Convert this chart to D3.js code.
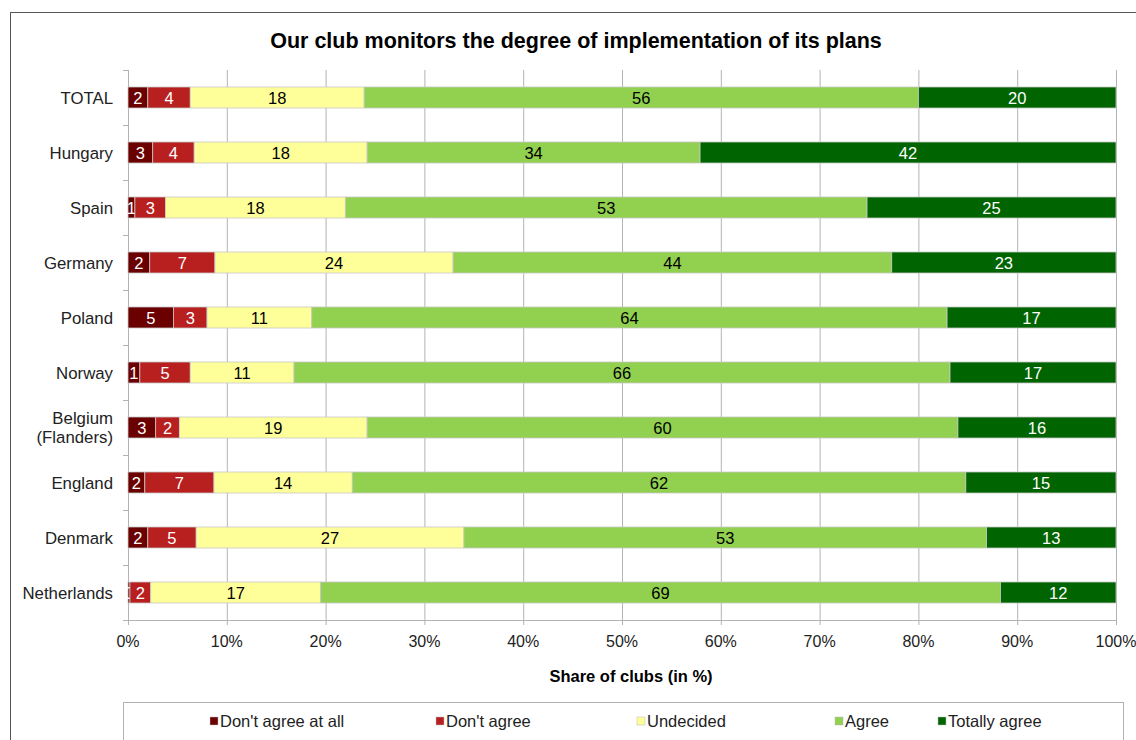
<!DOCTYPE html>
<html>
<head>
<meta charset="utf-8">
<script src="https://cdn.jsdelivr.net/npm/d3@7"></script>
<style>
  body { margin: 0; background: #fff; }
  text { font-family: Arial, "Liberation Sans", sans-serif; }
</style>
</head>
<body>
<script>
const categories = ['TOTAL', 'Hungary', 'Spain', 'Germany', 'Poland', 'Norway',
  'Belgium (Flanders)', 'England', 'Denmark', 'Netherlands']
const seriesNames = ["Don't agree at all", "Don't agree", 'Undecided', 'Agree', 'Totally agree']
const dontAgreeAtAll = [2.0, 2.5, 0.7, 2.2, 4.6, 1.2, 2.8, 1.7, 2.0, 0.2]
const dontAgree      = [4.3, 4.2, 3.1, 6.6, 3.4, 5.1, 2.4, 7.0, 4.9, 2.1]
const undecided      = [17.6, 17.5, 18.2, 24.1, 10.6, 10.5, 19.0, 14.0, 27.1, 17.2]
const agree          = [56.1, 33.7, 52.8, 44.4, 64.3, 66.4, 59.8, 62.1, 52.9, 68.8]
const totallyAgree   = [20.0, 42.1, 25.2, 22.7, 17.1, 16.8, 16.0, 15.2, 13.1, 11.7]
const xTicks = [0, 10, 20, 30, 40, 50, 60, 70, 80, 90, 100]

const colors = ['#6b0000', '#b81f1f', '#ffff99', '#92d050', '#006400']
const labelColors = ['#fff', '#fff', '#000', '#000', '#fff']

const W = 1136, H = 740
const svg = d3.select('body').append('svg')
  .attr('width', W).attr('height', H)

// outer frame
svg.append('rect')
  .attr('x', 10.5).attr('y', 12.5)
  .attr('width', 1140).attr('height', 760)
  .attr('fill', 'none').attr('stroke', '#555')

svg.append('text')
  .attr('x', 576).attr('y', 48)
  .attr('text-anchor', 'middle')
  .style('font-size', '21.5px').style('font-weight', 'bold')
  .text('Our club monitors the degree of implementation of its plans')

const x = d3.scaleLinear().domain([0, 100]).range([128, 1116])
const y = d3.scaleBand().domain(categories).range([70, 620])
  .paddingInner(0.618).paddingOuter(0.309)

// gridlines + bottom ticks
svg.append('g').selectAll('line')
  .data(xTicks.slice(1))
  .join('line')
  .attr('x1', d => x(d) + 0.5).attr('x2', d => x(d) + 0.5)
  .attr('y1', 70).attr('y2', 625)
  .attr('stroke', '#b3b3b3')

// bottom axis line
svg.append('line')
  .attr('x1', 128).attr('x2', 1116)
  .attr('y1', 620.5).attr('y2', 620.5)
  .attr('stroke', '#b3b3b3')

// left axis
svg.append('line')
  .attr('x1', 128.5).attr('x2', 128.5)
  .attr('y1', 70).attr('y2', 625)
  .attr('stroke', '#b3b3b3')
svg.append('g').selectAll('line')
  .data(d3.range(categories.length + 1))
  .join('line')
  .attr('x1', 123).attr('x2', 128)
  .attr('y1', k => 70 + k * y.step() + 0.5)
  .attr('y2', k => 70 + k * y.step() + 0.5)
  .attr('stroke', '#b3b3b3')

svg.append('g').selectAll('text')
  .data(xTicks)
  .join('text')
  .attr('x', d => x(d)).attr('y', 647)
  .attr('text-anchor', 'middle')
  .style('font-size', '16px').attr('fill', '#222')
  .text(d => d + '%')

// stacked data
const rows = categories.map((c, i) => ({
  cat: c,
  vals: [dontAgreeAtAll[i], dontAgree[i], undecided[i], agree[i], totallyAgree[i]]
}))
const stack = d3.stack().keys(d3.range(5)).value((d, k) => d.vals[k])
const series = stack(rows)

const layers = svg.append('g').selectAll('g')
  .data(series)
  .join('g')
  .attr('fill', (s, k) => colors[k])

layers.selectAll('rect')
  .data(s => s)
  .join('rect')
  .attr('x', d => x(d[0]))
  .attr('width', d => x(d[1]) - x(d[0]))
  .attr('y', d => y(d.data.cat))
  .attr('height', y.bandwidth())
  .attr('stroke', '#c8c8c8').attr('stroke-width', 0.8)

layers.each(function (s, k) {
  d3.select(this).selectAll('text')
    .data(s)
    .join('text')
    .attr('x', d => (x(d[0]) + x(d[1])) / 2)
    .attr('y', d => y(d.data.cat) + y.bandwidth() / 2 + 6)
    .attr('text-anchor', 'middle')
    .style('font-size', '16.5px')
    .attr('fill', labelColors[k])
    .text(d => Math.round(d.data.vals[k]))
})

// category labels
svg.append('g').selectAll('text')
  .data(categories)
  .join('text')
  .attr('text-anchor', 'end')
  .style('font-size', '16.8px').attr('fill', '#222')
  .each(function (c) {
    const t = d3.select(this)
    const cy = y(c) + y.bandwidth() / 2
    const parts = c === 'Belgium (Flanders)' ? ['Belgium', '(Flanders)'] : [c]
    parts.forEach((p, j) => {
      t.append('tspan')
        .attr('x', 113)
        .attr('y', cy + 6 + (j - (parts.length - 1) / 2) * 19)
        .text(p)
    })
  })

svg.append('text')
  .attr('x', 631).attr('y', 682)
  .attr('text-anchor', 'middle')
  .style('font-size', '16.5px').style('font-weight', 'bold')
  .text('Share of clubs (in %)')

// legend
svg.append('rect')
  .attr('x', 123.5).attr('y', 702.5)
  .attr('width', 1000).attr('height', 60)
  .attr('fill', '#fff').attr('stroke', '#b3b3b3')

const legendX = [210, 436, 637, 835, 938]
const legend = svg.append('g').selectAll('g')
  .data(seriesNames)
  .join('g')
  .attr('transform', (d, i) => `translate(${legendX[i]},721)`)
legend.append('rect')
  .attr('x', 0).attr('y', -4).attr('width', 8).attr('height', 8)
  .attr('fill', (d, i) => colors[i])
  .attr('stroke', '#bbb').attr('stroke-width', 0.5)
legend.append('text')
  .attr('x', 10).attr('y', 6)
  .style('font-size', '16.5px').attr('fill', '#222')
  .text(d => d)
</script>
</body>
</html>
